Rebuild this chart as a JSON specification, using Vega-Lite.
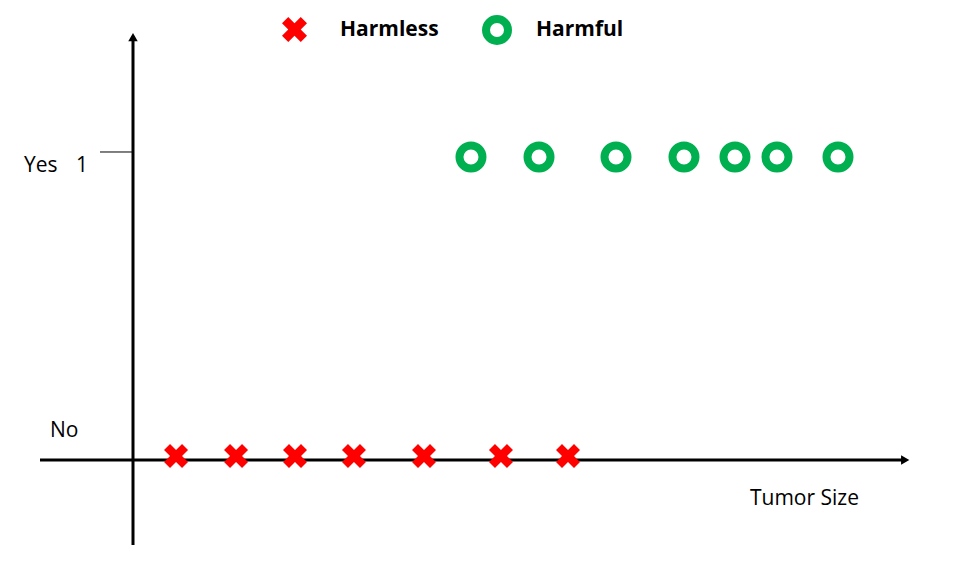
{
  "$schema": "https://vega.github.io/schema/vega-lite/v6.json",
  "width": 970,
  "height": 571,
  "autosize": {"type": "fit", "contains": "padding"},
  "padding": 0,
  "background": "white",
  "config": {"view": {"stroke": null}, "font": "Open Sans"},
  "datasets": {
    "axes": [
      {"x": -1.55, "x2": 12.83, "y": 0, "y2": 0},
      {"x": 0, "x2": 0, "y": -0.276, "y2": 1.36}
    ],
    "tick": [{"x": -0.55, "x2": 0, "y": 1, "y2": 1}],
    "arrowRight": [{"x": 12.87, "y": 0}],
    "arrowUp": [{"x": 0, "y": 1.373}],
    "harmless": [
      {"size": 0.717, "result": 0, "class": "Harmless"},
      {"size": 1.717, "result": 0, "class": "Harmless"},
      {"size": 2.7, "result": 0, "class": "Harmless"},
      {"size": 3.683, "result": 0, "class": "Harmless"},
      {"size": 4.85, "result": 0, "class": "Harmless"},
      {"size": 6.133, "result": 0, "class": "Harmless"},
      {"size": 7.25, "result": 0, "class": "Harmless"}
    ],
    "harmful": [
      {"size": 5.633, "result": 1, "class": "Harmful"},
      {"size": 6.767, "result": 1, "class": "Harmful"},
      {"size": 8.05, "result": 1, "class": "Harmful"},
      {"size": 9.183, "result": 1, "class": "Harmful"},
      {"size": 10.033, "result": 1, "class": "Harmful"},
      {"size": 10.733, "result": 1, "class": "Harmful"},
      {"size": 11.75, "result": 1, "class": "Harmful"}
    ],
    "labels": [
      {"text": "Yes", "x": -1.817, "y": 0.935},
      {"text": "1", "x": -0.95, "y": 0.935},
      {"text": "No", "x": -1.383, "y": 0.0747},
      {"text": "Tumor Size", "x": 10.283, "y": -0.146}
    ]
  },
  "layer": [
    {
      "data": {"name": "axes"},
      "mark": {"type": "rule", "color": "black", "strokeWidth": 3},
      "encoding": {
        "x": {"field": "x", "type": "quantitative", "scale": {"domain": [-2.2167, 13.95], "nice": false, "zero": false}, "axis": null},
        "x2": {"field": "x2"},
        "y": {"field": "y", "type": "quantitative", "scale": {"domain": [-0.3604, 1.4935], "nice": false, "zero": false}, "axis": null},
        "y2": {"field": "y2"}
      }
    },
    {
      "data": {"name": "tick"},
      "mark": {"type": "rule", "color": "black", "strokeWidth": 1},
      "encoding": {
        "x": {"field": "x", "type": "quantitative", "scale": {"domain": [-2.2167, 13.95], "nice": false, "zero": false}, "axis": null},
        "x2": {"field": "x2"},
        "y": {"field": "y", "type": "quantitative", "scale": {"domain": [-0.3604, 1.4935], "nice": false, "zero": false}, "axis": null},
        "y2": {"field": "y2"}
      }
    },
    {
      "data": {"name": "arrowRight"},
      "mark": {"type": "point", "shape": "triangle-right", "filled": true, "color": "black", "opacity": 1, "size": 90},
      "encoding": {
        "x": {"field": "x", "type": "quantitative", "scale": {"domain": [-2.2167, 13.95], "nice": false, "zero": false}, "axis": null},
        "y": {"field": "y", "type": "quantitative", "scale": {"domain": [-0.3604, 1.4935], "nice": false, "zero": false}, "axis": null}
      }
    },
    {
      "data": {"name": "arrowUp"},
      "mark": {"type": "point", "shape": "triangle-up", "filled": true, "color": "black", "opacity": 1, "size": 90},
      "encoding": {
        "x": {"field": "x", "type": "quantitative", "scale": {"domain": [-2.2167, 13.95], "nice": false, "zero": false}, "axis": null},
        "y": {"field": "y", "type": "quantitative", "scale": {"domain": [-0.3604, 1.4935], "nice": false, "zero": false}, "axis": null}
      }
    },
    {
      "data": {"name": "harmless"},
      "mark": {"type": "point", "shape": "M0,-0.5L0.5,-1L1,-0.5L0.5,0L1,0.5L0.5,1L0,0.5L-0.5,1L-1,0.5L-0.5,0L-1,-0.5L-0.5,-1Z", "filled": true, "opacity": 1, "size": 576, "yOffset": -4},
      "encoding": {
        "x": {"field": "size", "type": "quantitative", "scale": {"domain": [-2.2167, 13.95], "nice": false, "zero": false}, "axis": null},
        "y": {"field": "result", "type": "quantitative", "scale": {"domain": [-0.3604, 1.4935], "nice": false, "zero": false}, "axis": null},
        "color": {
          "field": "class", "type": "nominal",
          "scale": {"domain": ["Harmless"], "range": ["#FF0000"]},
          "legend": {
            "orient": "none", "legendX": 282, "legendY": 17, "title": null, "padding": 0,
            "symbolType": "M0,-0.5L0.5,-1L1,-0.5L0.5,0L1,0.5L0.5,1L0,0.5L-0.5,1L-1,0.5L-0.5,0L-1,-0.5L-0.5,-1Z",
            "symbolSize": 625, "symbolStrokeWidth": 0, "symbolOpacity": 1,
            "labelFont": "Open Sans", "labelFontSize": 21, "labelFontWeight": "bold", "labelColor": "black",
            "labelOffset": 33
          }
        }
      }
    },
    {
      "data": {"name": "harmful"},
      "mark": {"type": "point", "shape": "circle", "filled": false, "opacity": 1, "size": 529, "strokeWidth": 8, "yOffset": 5},
      "encoding": {
        "x": {"field": "size", "type": "quantitative", "scale": {"domain": [-2.2167, 13.95], "nice": false, "zero": false}, "axis": null},
        "y": {"field": "result", "type": "quantitative", "scale": {"domain": [-0.3604, 1.4935], "nice": false, "zero": false}, "axis": null},
        "color": {
          "field": "class", "type": "nominal",
          "scale": {"domain": ["Harmful"], "range": ["#00B050"]},
          "legend": {
            "orient": "none", "legendX": 482, "legendY": 15, "title": null, "padding": 0,
            "symbolType": "circle", "symbolSize": 484, "symbolStrokeWidth": 8, "symbolOpacity": 1,
            "labelFont": "Open Sans", "labelFontSize": 21, "labelFontWeight": "bold", "labelColor": "black",
            "labelOffset": 24
          }
        }
      }
    },
    {
      "data": {"name": "labels"},
      "mark": {"type": "text", "align": "left", "baseline": "alphabetic", "fontSize": 21, "font": "Open Sans", "color": "black"},
      "encoding": {
        "x": {"field": "x", "type": "quantitative", "scale": {"domain": [-2.2167, 13.95], "nice": false, "zero": false}, "axis": null},
        "y": {"field": "y", "type": "quantitative", "scale": {"domain": [-0.3604, 1.4935], "nice": false, "zero": false}, "axis": null},
        "text": {"field": "text"}
      }
    }
  ],
  "resolve": {"scale": {"color": "independent"}, "legend": {"color": "independent"}}
}
